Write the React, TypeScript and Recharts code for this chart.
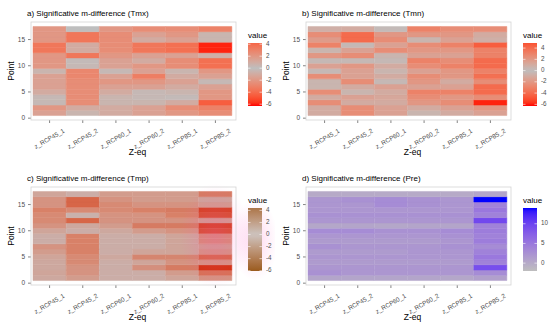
import { BarChart, Bar, XAxis, YAxis, Cell } from 'recharts'

const CATEGORIES = ['z_RCP45_1', 'z_RCP45_2', 'z_RCP60_1', 'z_RCP60_2', 'z_RCP85_1', 'z_RCP85_2']
const POINTS = [1, 2, 3, 4, 5, 6, 7, 8, 9, 10, 11, 12, 13, 14, 15, 16, 17]
const Y_TICKS = [0, 5, 10, 15]

// one array per category, points 1..17
const TMX = [
  [1.5, 2, 0.3, 0.3, 1, 1.5, 1.5, 1.5, 0.5, 2, 2, 2, -3.5, -3.5, 2, 2, 2],
  [0.5, 1, -2.5, -2.5, -2.5, -2.5, -2.5, -2.8, -2.8, 0.3, 0.2, -3.5, 1, 1, -3.5, -3.5, 0],
  [1, 1, 0.5, 0.5, 1, 1.5, 2, 1.5, 0.3, 1.5, 1.5, 2, 2.5, 2.5, 2.5, 2.5, 2],
  [1.5, 1.5, 0.5, 0.3, 0.3, 1.5, 2, -3.2, 1.5, 2, 1, 1.5, -3.5, -3.5, 1, 1.5, 2.5],
  [2, 2.5, 1, 0.2, 0.5, 1, 1.5, 1, 0.5, 2.5, 2.5, 1.5, -3.8, -3.8, 1.5, 2, 2.5],
  [2.5, -3, -4.5, 2, 2, 1.5, 0.3, 1.5, 2, -3.8, -3.8, 0.8, -6, -6, 0.5, 0.5, -3],
]

const TMN = [
  [1, 1, 2.5, 1, 2.5, 0.5, 0.5, 2.5, 0.3, 1.5, 0.3, 2, 0.5, 3, 1.8, 2.5, 0.8],
  [2.5, 2.5, 1, 1.5, 0.5, 1, 2.5, 1.5, 1.5, 2, 0.3, 2.5, 1.5, 0.3, -4, -4, 1],
  [1.5, 1.5, 1, 1.2, 1, 1.5, 0.3, 1, 0.5, 1, 0.3, 0.5, 2.5, 1.5, 2.5, 2, 0.2],
  [0.5, 1, 2, 2.5, 3, 1.5, 2, 2.5, 1.5, 2.5, 3, 1.5, 2, 2.5, 0.5, 2, 3],
  [1, 1.5, 2.5, 2, 3, 1.5, 1, 2, 2, 3, 2.5, 1.5, 2, 3, 1.5, 2, 2.5],
  [1.5, 2, -6, 2.5, -4, -4, 2.5, -3.8, 3, -4, -4, 3, 3, -4.5, 0.8, 1, 2.5],
]

const TMP = [
  [0.8, 1, 0.8, 0.8, 1, 1.5, 2, 0.5, 0.5, 1, 2, 2.5, 2.5, 3, 2, 2, 1],
  [1.5, 2, 2, 2.5, 2.5, 3, 3, 3, 3, 0.5, 0.8, -4, 0.3, 2.5, -4, -4, 0.5],
  [0.5, 0.5, 0.5, 0.5, 0.8, 0.5, 0.5, 0.5, 0.5, 0.8, 1.5, 2, 2, 2.5, 2.5, 2, 1.5],
  [0.5, 0.5, -2, 1, -2.5, 1, 0.5, 0.5, 0.5, 1.5, -3, 2, 2, 3, 2, 1.5, 1.5],
  [1, 1.5, -3, 2, -2.5, 1, 1, 1, 1, 2, -3, 2, 3, -3, 2, 1.5, 1.5],
  [2, -3.5, -6, 2, -4, 2, 1.5, 2.5, 2.5, -5, -5.5, 1.5, -5, -5.5, 1.5, 1, -3],
]

const PRE = [
  [0.5, 2.5, 2, 1.5, 2, 1.5, 2.5, 1.5, 2, 3, 0.3, 2, 2.5, 2, 2, 2, 0],
  [0.5, 2, 2, 1.5, 2, 1.5, 2, 1.5, 2, 3, 0.5, 2, 2.5, 2, 2, 2.5, 0],
  [0.5, 2, 2, 1.5, 2, 1.5, 2, 1.5, 2, 2.5, 0.3, 2, 2.5, 2, 3, 3, 0],
  [0.5, 2, 2, 1.5, 2, 2, 2, 1.5, 2, 2.5, 0.5, 2, 2.5, 2, 2.5, 2.5, 0],
  [0.3, 2, 2, 1.5, 2, 2, 2.5, 2, 2.5, 3, 0.5, 2, 2.5, 2, 2, 2, 0],
  [1, 3, 9, 4, 5, 4, 3, 4.5, 4, 4.5, 4, 9.5, 4, 5, 4, 14, 0.5],
]

const TEMP_LEGEND_TICKS = [-6, -4, -2, 0, 2, 4]
const PRE_LEGEND_TICKS = [0, 5, 10]

const FONT = '"Liberation Sans", Arial, sans-serif'

// --- colour helpers (Lab interpolation like ggplot) ---
type Lab = [number, number, number]
const hexRgb = (h: string) => {
  const n = parseInt(h.slice(1), 16)
  return [(n >> 16) & 255, (n >> 8) & 255, n & 255]
}
const toLin = (c: number) => {
  c /= 255
  return c <= 0.04045 ? c / 12.92 : Math.pow((c + 0.055) / 1.055, 2.4)
}
const fromLin = (c: number) => {
  const v = c <= 0.0031308 ? 12.92 * c : 1.055 * Math.pow(c, 1 / 2.4) - 0.055
  return Math.round(Math.max(0, Math.min(1, v)) * 255)
}
function toLab(hex: string): Lab {
  const [r, g, b] = hexRgb(hex).map(toLin)
  const x = (0.4124 * r + 0.3576 * g + 0.1805 * b) / 0.95047
  const y = 0.2126 * r + 0.7152 * g + 0.0722 * b
  const z = (0.0193 * r + 0.1192 * g + 0.9505 * b) / 1.08883
  const f = (t: number) => (t > 0.008856 ? Math.cbrt(t) : 7.787 * t + 16 / 116)
  const fx = f(x), fy = f(y), fz = f(z)
  return [116 * fy - 16, 500 * (fx - fy), 200 * (fy - fz)]
}
function fromLab([L, a, bb]: Lab) {
  const fy = (L + 16) / 116
  const fx = fy + a / 500
  const fz = fy - bb / 200
  const fi = (t: number) => (t ** 3 > 0.008856 ? t ** 3 : (t - 16 / 116) / 7.787)
  const x = fi(fx) * 0.95047, y = fi(fy), z = fi(fz) * 1.08883
  const r = 3.2406 * x - 1.5372 * y - 0.4986 * z
  const g = -0.9689 * x + 1.8758 * y + 0.0415 * z
  const b = 0.0557 * x - 0.204 * y + 1.057 * z
  return `rgb(${fromLin(r)},${fromLin(g)},${fromLin(b)})`
}
function mix(c1: string, c2: string, t: number) {
  const a = toLab(c1), b = toLab(c2)
  return fromLab([a[0] + (b[0] - a[0]) * t, a[1] + (b[1] - a[1]) * t, a[2] + (b[2] - a[2]) * t])
}
const diverging = (low: string, mid: string, high: string, maxAbs: number) => (v: number) => {
  const t = Math.max(-1, Math.min(1, v / maxAbs))
  return t < 0 ? mix(mid, low, -t) : mix(mid, high, t)
}
const sequential = (low: string, high: string, min: number, max: number) => (v: number) =>
  mix(low, high, Math.max(0, Math.min(1, (v - min) / (max - min))))

const redScale = diverging('#ff0000', '#bebebe', '#ff0000', 6.3)
const brownTiles = diverging('#d22e0c', '#c6b6b4', '#d8401a', 6.1)
const brownLegend = diverging('#9a5a1c', '#cdc4c0', '#9a5a1c', 6.1)
const blueScale = sequential('#bebebe', '#0000ff', -2, 14)

interface LegendSpec {
  min: number
  max: number
  ticks: number[]
  fill: (v: number) => string
}

function XTick(props: any) {
  const { x, y, payload } = props
  return (
    <text
      transform={`translate(${x},${y + 14}) rotate(-30)`}
      textAnchor="middle"
      dominantBaseline="middle"
      fontSize={6.3}
      fontFamily={FONT}
      fill="#4d4d4d"
    >
      {payload.value}
    </text>
  )
}

interface PanelProps {
  id: string
  left: number
  top: number
  title: string
  values: number[][]
  fill: (v: number) => string
  legend: LegendSpec
  glow?: boolean
}

function HeatPanel({ id, left, top, title, values, fill, legend, glow }: PanelProps) {
  const data = CATEGORIES.map((cat) => {
    const row: Record<string, string | number> = { cat, base: 0.5 }
    POINTS.forEach((p) => (row[`p${p}`] = 1))
    return row
  })

  // plot area
  const px0 = 31, px1 = 236, py0 = 22, py1 = 120
  // legend bar
  const lx = 248, lw = 14, ly0 = 43, ly1 = 106
  const ly = (v: number) => ly0 + ((legend.max - v) / (legend.max - legend.min)) * (ly1 - ly0)
  const stops = Array.from({ length: 21 }, (_, i) => i / 20)

  return (
    <div style={{ position: 'absolute', left, top, width: 275, height: 163 }}>
      <BarChart
        width={275}
        height={163}
        data={data}
        margin={{ top: py0, right: 275 - px1, bottom: 0, left: 0 }}
        barCategoryGap={0}
        barGap={0}
      >
        <XAxis
          dataKey="cat"
          height={43}
          padding={{ left: 2, right: 4 }}
          interval={0}
          axisLine={false}
          tickSize={3}
          tickLine={{ stroke: '#333333', strokeWidth: 0.6 }}
          tick={(p: any) => <XTick {...p} />}
        />
        <YAxis
          type="number"
          width={31}
          domain={[-0.35, 18.35]}
          ticks={Y_TICKS}
          axisLine={false}
          tickSize={3}
          tickMargin={3}
          tickLine={{ stroke: '#333333', strokeWidth: 0.6 }}
          tick={{ fontSize: 6.5, fill: '#4d4d4d', fontFamily: FONT }}
        />
        <Bar dataKey="base" stackId="s" fill="none" isAnimationActive={false} />
        {POINTS.map((p, pi) => (
          <Bar key={p} dataKey={`p${p}`} stackId="s" isAnimationActive={false}>
            {CATEGORIES.map((c, ci) => {
              const col = fill(values[ci][pi])
              return <Cell key={c} fill={col} stroke={col} strokeWidth={0.5} />
            })}
          </Bar>
        ))}
      </BarChart>
      <svg
        width={275}
        height={163}
        style={{ position: 'absolute', left: 0, top: 0, pointerEvents: 'none', fontFamily: FONT }}
      >
        <defs>
          <linearGradient id={`lg-${id}`} x1="0" y1="0" x2="0" y2="1">
            {stops.map((s) => (
              <stop key={s} offset={s} stopColor={legend.fill(legend.max - s * (legend.max - legend.min))} />
            ))}
          </linearGradient>
          <radialGradient id={`glow-${id}`} cx="0.5" cy="0.5" r="0.5">
            <stop offset="0" stopColor="#ff4fc0" stopOpacity={0.22} />
            <stop offset="1" stopColor="#ff4fc0" stopOpacity={0} />
          </radialGradient>
        </defs>
        {glow && (
          <g>
            <rect x={180} y={py0 - 4} width={70} height={py1 - py0 + 8} fill={`url(#glow-${id})`} />
            <rect x={232} y={34} width={46} height={82} fill={`url(#glow-${id})`} />
          </g>
        )}
        <rect x={px0} y={py0} width={px1 - px0} height={py1 - py0} fill="none" stroke="#d4d4d4" strokeWidth={0.8} />
        <text x={27} y={16} fontSize={8} fill="#000">
          {title}
        </text>
        <text
          transform={`translate(12,${(py0 + py1) / 2}) rotate(-90)`}
          textAnchor="middle"
          dominantBaseline="middle"
          fontSize={8.5}
          fill="#000"
        >
          Point
        </text>
        <text x={(px0 + px1) / 2 + 4} y={155} textAnchor="middle" fontSize={8.5} fill="#000">
          Z-eq
        </text>
        <text x={lx} y={38} fontSize={8} fill="#000">
          value
        </text>
        <rect x={lx} y={ly0} width={lw} height={ly1 - ly0} fill={`url(#lg-${id})`} />
        {legend.ticks.map((t) => (
          <g key={t}>
            <line x1={lx} x2={lx + 2.5} y1={ly(t)} y2={ly(t)} stroke="#fff" strokeWidth={0.6} />
            <line x1={lx + lw - 2.5} x2={lx + lw} y1={ly(t)} y2={ly(t)} stroke="#fff" strokeWidth={0.6} />
            <text x={lx + lw + 4} y={ly(t)} dominantBaseline="middle" fontSize={6.3} fill="#4d4d4d">
              {t}
            </text>
          </g>
        ))}
      </svg>
    </div>
  )
}

export default function App() {
  return (
    <div style={{ position: 'absolute', left: 0, top: 0, width: 550, height: 326, background: '#fff', overflow: 'hidden' }}>
      <HeatPanel
        id="a"
        left={0}
        top={0}
        title="a) Significative m-difference (Tmx)"
        values={TMX}
        fill={redScale}
        legend={{ min: -6.3, max: 4.2, ticks: TEMP_LEGEND_TICKS, fill: redScale }}
      />
      <HeatPanel
        id="b"
        left={275}
        top={0}
        title="b) Significative m-difference (Tmn)"
        values={TMN}
        fill={redScale}
        legend={{ min: -6.3, max: 4.9, ticks: TEMP_LEGEND_TICKS, fill: redScale }}
      />
      <HeatPanel
        id="c"
        left={0}
        top={165}
        title="c) Significative m-difference (Tmp)"
        values={TMP}
        fill={brownTiles}
        legend={{ min: -6.05, max: 4.4, ticks: TEMP_LEGEND_TICKS, fill: brownLegend }}
        glow
      />
      <HeatPanel
        id="d"
        left={275}
        top={165}
        title="d) Significative m-difference (Pre)"
        values={PRE}
        fill={blueScale}
        legend={{ min: -2, max: 14, ticks: PRE_LEGEND_TICKS, fill: blueScale }}
      />
    </div>
  )
}
